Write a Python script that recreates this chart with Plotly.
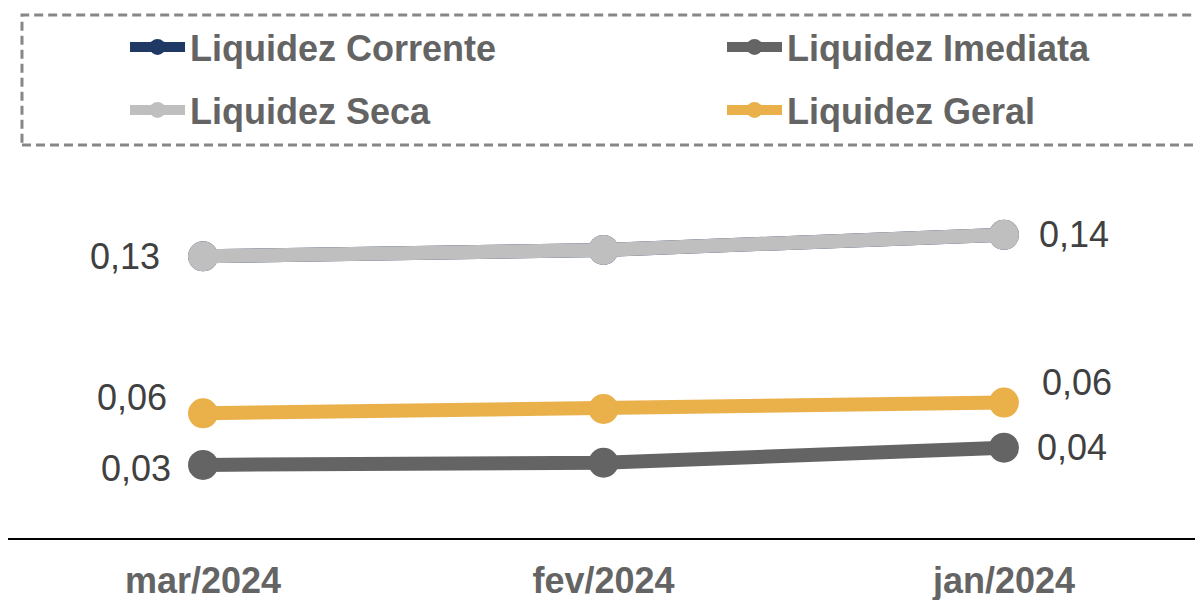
import plotly.graph_objects as go

# periods (reference shows the most recent month on the right)
periodos = ["mar/2024", "fev/2024", "jan/2024"]

liq_corrente = [0.131, 0.134, 0.141]
liq_imediata = [0.034, 0.035, 0.042]
liq_seca = [0.131, 0.134, 0.141]
liq_geral = [0.058, 0.060, 0.063]

FONT = "Arial, Liberation Sans, sans-serif"

# the page adds an 8px body margin, so the figure is drawn 8px smaller
W, H = 1195, 592

series = [
    # name, values, colour, legend id
    ("Liquidez Corrente", liq_corrente, "#203864", "legend"),
    ("Liquidez Imediata", liq_imediata, "#646464", "legend2"),
    ("Liquidez Seca", liq_seca, "#BFBFBF", "legend3"),
    ("Liquidez Geral", liq_geral, "#EAB049", "legend4"),
]

fig = go.Figure()

for name, vals, color, leg in series:
    fig.add_trace(go.Scatter(
        x=periodos, y=vals, name=name, mode="lines+markers",
        line=dict(color=color, width=14),
        marker=dict(color=color, size=30),
        legend=leg,
        hoverinfo="skip",
    ))

# data labels, only first and last point (corrente sits under seca)
label_shift = {
    "Liquidez Imediata": ((-30, -4), (31, 0)),
    "Liquidez Seca": ((-41, 0), (33, 0)),
    "Liquidez Geral": ((-34, 16), (36, 20)),
}
for name, vals, color, leg in series:
    if name not in label_shift:
        continue
    (lx, ly), (rx, ry) = label_shift[name]
    for idx, anchor, dx, dy in [(0, "right", lx, ly), (-1, "left", rx, ry)]:
        fig.add_annotation(
            x=periodos[idx], y=vals[idx],
            text=f"{vals[idx]:.2f}".replace(".", ","),
            showarrow=False, xanchor=anchor, yanchor="middle",
            xshift=dx, yshift=dy,
            font=dict(family=FONT, size=36, color="#404040"),
        )

# dashed frame around the legend
fig.add_shape(
    type="rect", xref="paper", yref="paper",
    x0=0.0117, x1=1.003, y0=1.0397, y1=1.3836,
    line=dict(color="#878787", width=3, dash="9px,5px"),
)

# one legend per entry, laid out as a 2x2 grid
# (horizontal + container refs so they only reserve top margin)
leg_style = dict(
    orientation="h", xref="container", yref="container",
    xanchor="left", yanchor="middle", itemwidth=55,
    font=dict(family=FONT, size=36, color="#646464", weight="bold"),
    bgcolor="rgba(0,0,0,0)", itemclick=False, itemdoubleclick=False,
)
col_x = [117 / W, 714 / W]
row_y = [1 - 39 / H, 1 - 102 / H]

fig.update_layout(
    width=W, height=H,
    margin=dict(l=0, r=0, t=152, b=62),
    plot_bgcolor="white", paper_bgcolor="white",
    showlegend=True,
    legend=dict(leg_style, x=col_x[0], y=row_y[0]),
    legend2=dict(leg_style, x=col_x[1], y=row_y[0]),
    legend3=dict(leg_style, x=col_x[0], y=row_y[1]),
    legend4=dict(leg_style, x=col_x[1], y=row_y[1]),
    xaxis=dict(
        range=[-0.487, 2.497], showgrid=False, zeroline=False,
        showline=True, linecolor="#000000", linewidth=2,
        ticks="", ticklabelstandoff=10, tickangle=0,
        tickfont=dict(family=FONT, size=36, color="#646464", weight="bold"),
    ),
    yaxis=dict(range=[0, 0.1758], visible=False),
)

fig.write_html("out.html")
